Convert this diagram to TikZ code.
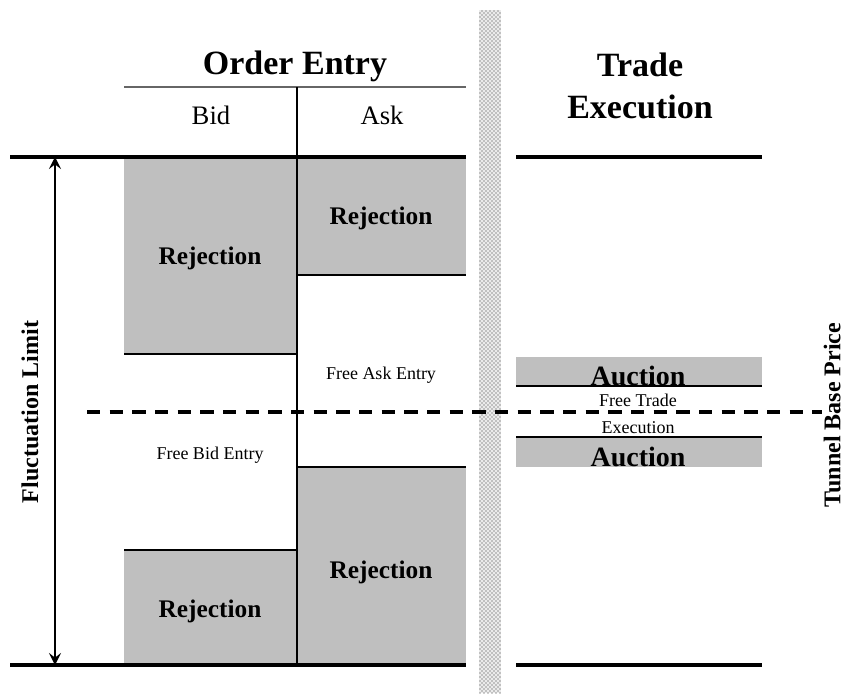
\documentclass[tikz,border=0pt]{standalone}
\usepackage{fontspec}
\setmainfont{Liberation Serif}
\usetikzlibrary{arrows.meta,patterns}

\begin{document}
\begin{tikzpicture}[x=0.75pt,y=-0.75pt,>={Stealth[length=9pt,width=9pt,inset=3.5pt]},semithick]
\tikzstyle{box}=[fill=black!25,draw=none]
\tikzstyle{head}=[font=\fontsize{25.5}{31}\selectfont\bfseries,align=center]
\tikzstyle{side}=[font=\fontsize{20}{22}\selectfont]
\tikzstyle{zone}=[font=\fontsize{19}{21}\selectfont\bfseries]
\tikzstyle{free}=[font=\fontsize{13.5}{20}\selectfont,align=center]
\tikzstyle{vert}=[font=\fontsize{18}{20}\selectfont\bfseries,rotate=90]
\tikzstyle{limit}=[line width=3pt]
\tikzstyle{edge}=[line width=2pt]
\useasboundingbox (0,0) rectangle (848,693);
% grey zones
\fill[box] (124,157) rectangle (297,354);
\fill[box] (297,157) rectangle (466,275);
\fill[box] (297,467) rectangle (466,665);
\fill[box] (124,550) rectangle (297,665);
\fill[box] (516,357) rectangle (762,386);
\fill[box] (516,437) rectangle (762,467);
\draw[edge] (124,354) -- (297,354);
\draw[edge] (297,275) -- (466,275);
\draw[edge] (297,467) -- (466,467);
\draw[edge] (124,550) -- (297,550);
\draw[edge] (516,386) -- (762,386);
\draw[edge] (516,437) -- (762,437);
% separator stripe
\fill[black!8] (479,10) rectangle (501,693);
\fill[pattern=crosshatch dots,pattern color=black!80] (479,10) rectangle (501,693);
% columns
\draw[line width=1.5pt,black!60] (124,87) -- (466,87);
\draw[line width=1.2pt] (297,87) -- (297,665);
% limits
\draw[limit] (10,157) -- (466,157);
\draw[limit] (10,665) -- (466,665);
\draw[limit] (516,157) -- (762,157);
\draw[limit] (516,665) -- (762,665);
\coordinate (up) at (55,157);
\coordinate (down) at (55,665);
\draw[<->,line width=1.5pt] (up) -- (down);
\coordinate (base west) at (87,412);
\coordinate (base east) at (822,412);
\draw[line width=3pt,dash pattern=on 10pt off 7pt] (base west) -- (base east);
% labels
\node[head] (order) at (295,66) {Order Entry};
\node[side] (bid) at (211,115) {Bid};
\node[side] (ask) at (382,115) {Ask};
\node[head] (trade) at (640,86) {Trade\\Execution};
\node[zone] (rej bid top) at (210,258) {Rejection};
\node[zone] (rej ask top) at (381,218) {Rejection};
\node[zone] (rej ask bot) at (381,572) {Rejection};
\node[zone] (rej bid bot) at (210,611) {Rejection};
\node[free] (free ask) at (381,375) {Free Ask Entry};
\node[free] (free bid) at (210,455) {Free Bid Entry};
\node[zone,font=\fontsize{21}{23}\selectfont\bfseries] (auction top) at (638,376) {Auction};
\node[free] (free trade) at (638,414) {Free Trade\\Execution};
\node[zone,font=\fontsize{21}{23}\selectfont\bfseries] (auction bot) at (638,457) {Auction};
\node[vert] (fluct) at (30,412) {Fluctuation Limit};
\node[vert,anchor=south,inner sep=0pt] (tunnel) at (841,415) {Tunnel Base Price};
\end{tikzpicture}
\end{document}
